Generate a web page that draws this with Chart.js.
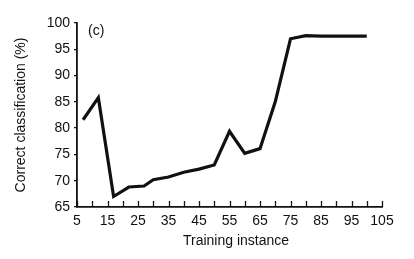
<!DOCTYPE html>
<html>
<head>
<meta charset="utf-8">
<script src="https://cdn.jsdelivr.net/npm/chart.js@4"></script>
<style>
  html, body { margin: 0; padding: 0; background: #fff; }
  #wrap { width: 414px; height: 259px; }
</style>
</head>
<body>
<div id="wrap"><canvas id="grafico" width="414" height="259"></canvas></div>
<script>
// valores (c)
const instancias = [7, 12, 17, 22, 27, 30, 35, 40, 45, 50, 55, 60, 65, 70, 75, 80, 85, 90, 95, 100];
const acertos = [81.6, 85.8, 67.0, 68.8, 69.0, 70.2, 70.7, 71.6, 72.2, 73.0, 79.4, 75.2, 76.1, 85.0, 97.0, 97.6, 97.5, 97.5, 97.5, 97.5];
const ticksX = [5, 10, 15, 20, 25, 30, 35, 40, 45, 50, 55, 60, 65, 70, 75, 80, 85, 90, 95, 100, 105];
const rotulosX = [5, 15, 25, 35, 45, 55, 65, 75, 85, 95, 105];
const ticksY = [65, 70, 75, 80, 85, 90, 95, 100];

const fonte = { family: '"Liberation Sans", Arial, sans-serif', size: 14 };

// marcas do eixo x para dentro, titulo do x e rotulo (c)
const marcasPlugin = {
  id: 'marcas',
  afterDraw(chart) {
    const ctx = chart.ctx;
    const x = chart.scales.x, y = chart.scales.y;
    const area = chart.chartArea;
    const base = y.getPixelForValue(65);
    ctx.save();
    ctx.strokeStyle = '#111';
    ctx.lineWidth = 1.3;
    ticksX.forEach(v => {
      const px = Math.round(x.getPixelForValue(v)) + 0.5;
      ctx.beginPath();
      ctx.moveTo(px, base);
      ctx.lineTo(px, base - 6);
      ctx.stroke();
    });
    ctx.fillStyle = '#111';
    ctx.font = '14px "Liberation Sans", Arial, sans-serif';
    ctx.textBaseline = 'middle';
    ctx.fillText('(c)', area.left + 11, area.top + 8);
    ctx.textAlign = 'center';
    ctx.fillText('Training instance', (area.left + area.right) / 2 + 6.5, 241);
    ctx.restore();
  }
};

new Chart(document.getElementById('grafico').getContext('2d'), {
  type: 'line',
  data: {
    datasets: [{
      data: instancias.map((v, i) => ({ x: v, y: acertos[i] })),
      borderColor: '#111',
      borderWidth: 3.2,
      pointRadius: 0,
      tension: 0,
      fill: false
    }]
  },
  options: {
    responsive: false,
    animation: false,
    layout: { padding: { left: 0, right: 32, top: 23, bottom: 0 } },
    plugins: { legend: { display: false }, tooltip: { enabled: false } },
    scales: {
      x: {
        type: 'linear',
        min: 5, max: 105,
        afterFit: s => { s.height = 52; },
        afterBuildTicks: s => { s.ticks = ticksX.map(v => ({ value: v })); },
        grid: { display: false, drawTicks: false },
        border: { display: true, color: '#111', width: 1.8 },
        ticks: {
          color: '#111', font: fonte, padding: 6, maxRotation: 0, autoSkip: false,
          callback: v => rotulosX.includes(v) ? String(v) : ''
        }
      },
      y: {
        min: 65, max: 100,
        afterFit: s => { s.width = 77; },
        afterBuildTicks: s => { s.ticks = ticksY.map(v => ({ value: v })); },
        grid: { display: true, drawOnChartArea: false, drawTicks: true, tickLength: 3, color: '#111', lineWidth: 1.3 },
        border: { display: true, color: '#111', width: 1.8 },
        ticks: { color: '#111', font: fonte, padding: 4 },
        title: { display: true, text: 'Correct classification (%)', color: '#111', font: fonte, padding: { top: 13, bottom: 0 } }
      }
    }
  },
  plugins: [marcasPlugin]
});
</script>
</body>
</html>
